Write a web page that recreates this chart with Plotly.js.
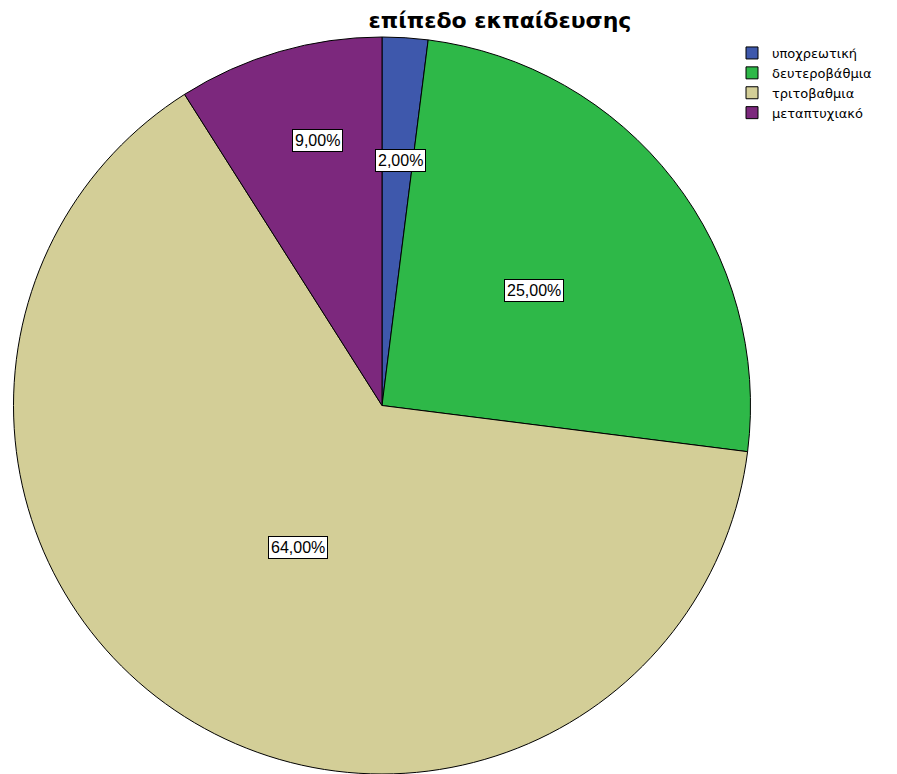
<!DOCTYPE html>
<html>
<head>
<meta charset="utf-8">
<script src="https://cdn.plot.ly/plotly-3.0.1.min.js"></script>
<style>html,body{margin:0;padding:0;background:#fff;}</style>
</head>
<body>
<div id="chart" style="width:897px;height:774px;"></div>
<script>
const categories = ["υποχρεωτική", "δευτεροβάθμια", "τριτοβαθμια", "μεταπτυχιακό"];
const percentages = [2, 25, 64, 9];
const valueLabels = ["2,00%", "25,00%", "64,00%", "9,00%"];
const colors = ["#3E58AC", "#2EB848", "#D3CE97", "#7C287D"];
const labelRadiusFrac = [0.667, 0.517, 0.448, 0.74];
const labelAngleShiftDeg = [0.6, 0.7, -1.8, 2.6];

const W = 897, H = 774;
const domX = [12 / W, 752 / W];
const domY = [0, 737 / H];
const cxPx = (domX[0] + domX[1]) / 2 * W;
const cyPx = H - (domY[0] + domY[1]) / 2 * H;
const R = Math.min((domX[1] - domX[0]) * W, (domY[1] - domY[0]) * H) / 2;

const total = percentages.reduce((a, b) => a + b, 0);
let cum = 0;
const annotations = percentages.map((v, i) => {
  const mid = (cum + v / 2) / total * 2 * Math.PI + labelAngleShiftDeg[i] * Math.PI / 180;
  cum += v;
  const r = R * labelRadiusFrac[i];
  const px = cxPx + r * Math.sin(mid);
  const py = cyPx - r * Math.cos(mid);
  return {
    xref: "paper", yref: "paper",
    x: px / W, y: 1 - py / H,
    xanchor: "center", yanchor: "middle",
    text: valueLabels[i], showarrow: false,
    font: {family: "Liberation Sans, Arial, sans-serif", size: 16, color: "#000"},
    bgcolor: "#fff", bordercolor: "#000", borderwidth: 1, borderpad: 2
  };
});

const trace = {
  type: "pie",
  labels: categories,
  values: percentages,
  sort: false,
  direction: "clockwise",
  rotation: 0,
  textinfo: "none",
  hoverinfo: "none",
  marker: {colors: colors, line: {color: "#000", width: 1}},
  domain: {x: domX, y: domY}
};

const layout = {
  width: W, height: H,
  margin: {l: 0, r: 0, t: 0, b: 0},
  paper_bgcolor: "#fff",
  showlegend: true,
  title: {
    text: "<b>επίπεδο εκπαίδευσης</b>",
    x: 500 / W, xanchor: "center", xref: "paper",
    y: 1 - 20 / H, yanchor: "middle", yref: "paper",
    font: {family: "DejaVu Sans, sans-serif", size: 22, color: "#000"}
  },
  legend: {
    x: 732 / W, xanchor: "left",
    y: 1 - 38 / H, yanchor: "top",
    font: {family: "DejaVu Sans, sans-serif", size: 13, color: "#000"},
    bgcolor: "rgba(0,0,0,0)", tracegroupgap: 0
  },
  annotations: annotations
};

Plotly.newPlot("chart", [trace], layout, {displayModeBar: false, staticPlot: true});
</script>
</body>
</html>
